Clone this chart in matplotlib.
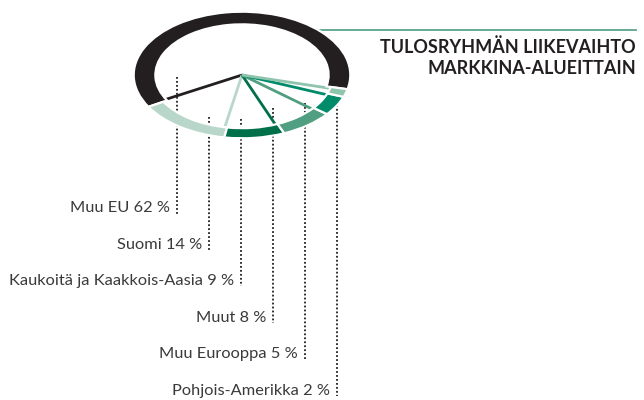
import matplotlib.pyplot as plt
import numpy as np

labels = ["Muu EU", "Suomi", "Kaukoitä ja Kaakkois-Aasia", "Muut", "Muu Eurooppa", "Pohjois-Amerikka"]
shares = [62, 14, 9, 8, 5, 2]
colors = ["#231f20", "#b8d7ca", "#00704a", "#4f9f80", "#008b6a", "#8fc4ad"]
title_lines = ["TULOSRYHMÄN LIIKEVAIHTO", "MARKKINA-ALUEITTAIN"]

W, H = 644, 400
fig = plt.figure(figsize=(W / 100, H / 100), dpi=100)

# overlay in pixel coordinates for the text and leader lines
ax = fig.add_axes([0, 0, 1, 1])
ax.set_xlim(0, W)
ax.set_ylim(H, 0)
ax.axis("off")

# ring is an ellipse: centre and radii in pixels
cx, cy, rx, ry = 242, 75, 108.3, 63.3
ax_pie = fig.add_axes([(cx - rx) / W, 1 - (cy + ry) / H, 2 * rx / W, 2 * ry / H])

start = -13
wedges, _ = ax_pie.pie(shares, colors=colors, startangle=start, counterclock=True,
                       radius=1, wedgeprops=dict(width=0.17, edgecolor="white", linewidth=1.6))
wedges[0].set_width(0.2)
for w in wedges[1:]:
    w.set_width(0.16)

# spokes from the centre to the end of each slice
ends = start + 360 * np.cumsum(shares) / sum(shares)
for ang, col in zip(ends, colors):
    t = np.radians(ang - 1.5)
    ax_pie.plot([0, 0.9 * np.cos(t)], [0, 0.9 * np.sin(t)], color=col, lw=2,
                solid_capstyle="butt", zorder=0.5)

ax_pie.set_aspect("auto")
ax_pie.set_xlim(-1, 1)
ax_pie.set_ylim(-1, 1)
ax_pie.axis("off")

# leader lines and labels
leader_top = [77, 116.5, 118.5, 107.5, 102.5, 93]
for i, (lab, val) in enumerate(zip(labels, shares)):
    x = 177 + 32 * i
    y = 208.5 + 36.4 * i
    ax.plot([x, x], [leader_top[i], y + 5], color="#231f20", lw=1.3,
            linestyle=(0, (1, 1.2)), zorder=5)
    ax.text(x - 7, y, f"{lab} {val} %", ha="right", va="center",
            fontsize=11.8, family="Lato", color="#3a3a3a")

# title with green rule
ax.plot([318, 636], [30, 30], color="#5aa58a", lw=1.3, zorder=0)
ax.text(636, 47, title_lines[0], ha="right", va="center", fontsize=13,
        family="Lato", fontweight="bold", color="#231f20")
ax.text(636, 68, title_lines[1], ha="right", va="center", fontsize=13,
        family="Lato", fontweight="bold", color="#231f20")

fig.savefig("out.png", dpi=100)
